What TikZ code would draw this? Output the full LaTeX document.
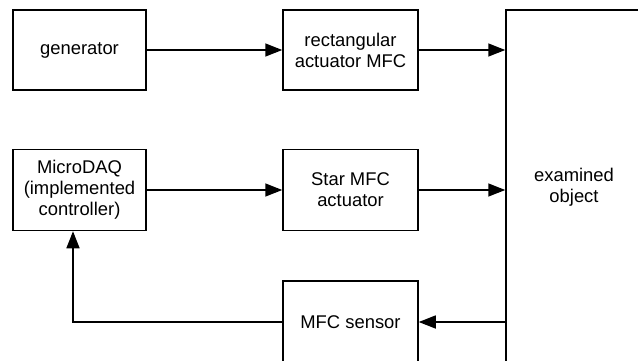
\documentclass[tikz,border=0pt]{standalone}
\usepackage{fontspec}
\setmainfont{Liberation Sans}
\usetikzlibrary{arrows.meta}
\begin{document}
\begin{tikzpicture}[x=1pt,y=-1pt,
  blk/.style={draw, line width=1.5pt, minimum width=133pt, minimum height=80pt,
    align=center, inner sep=0pt, font=\fontsize{18.4}{21}\selectfont},
  con/.style={line width=1.5pt, -{Triangle[length=17pt,width=13pt]}},
  plain/.style={line width=1.5pt}]
\useasboundingbox (0,0) rectangle (638,360);
\clip (0,0) rectangle (638,360);
\node[blk] (gen) at (79.5,50) {generator};
\node[blk, minimum width=135pt] (rect) at (350.5,50) {rectangular\\actuator MFC};
\node[blk, minimum height=81pt] (micro) at (79.5,190) {MicroDAQ\\(implemented\\controller)};
\node[blk, minimum width=135pt, minimum height=81pt] (star) at (350.5,190) {Star MFC\\actuator};
\node[blk, minimum width=135pt, minimum height=82pt] (sensor) at (350.5,322) {MFC sensor};
\node[blk, minimum width=136pt, minimum height=354pt] (exam) at (574,187) {examined\\object};
\draw[con] (gen) -- (rect);
\draw[con] (rect.east) -- (rect.east -| exam.west);
\draw[con] (micro.east |- star) -- (star);
\draw[con] (star.east) -- (star.east -| exam.west);
\draw[con] (sensor.east -| exam.west) -- (sensor.east);
\draw[con] (sensor.west) -| ([xshift=-6.5pt]micro.south);
\end{tikzpicture}
\end{document}
